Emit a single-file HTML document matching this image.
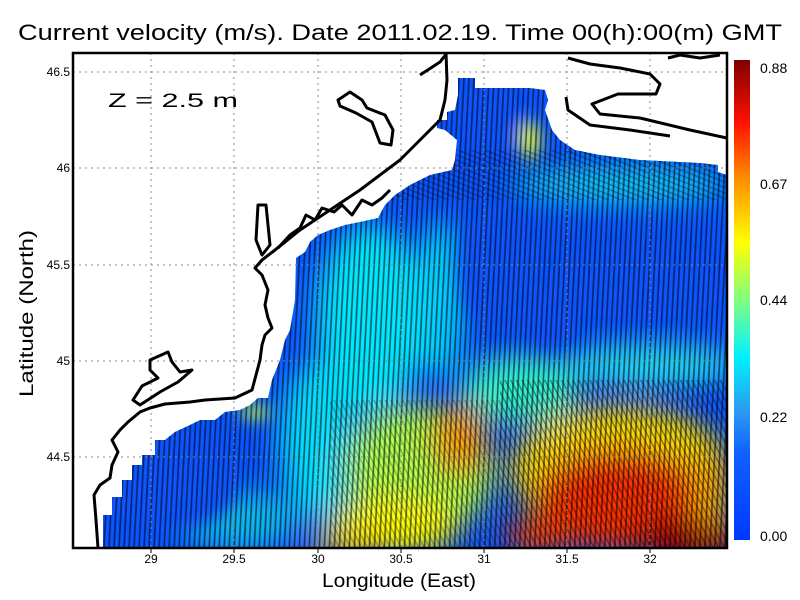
<!DOCTYPE html>
<html><head><meta charset="utf-8"><style>
html,body{margin:0;padding:0;background:#fff;}
svg{display:block;font-family:"Liberation Sans",sans-serif;}
</style></head><body>
<svg width="800" height="600" viewBox="0 0 800 600" xmlns="http://www.w3.org/2000/svg">
<defs>
<linearGradient id="cb" x1="0" y1="1" x2="0" y2="0">
<stop offset="0" stop-color="#0038ff"/>
<stop offset="0.18" stop-color="#1060ff"/>
<stop offset="0.27" stop-color="#2a9cf0"/>
<stop offset="0.38" stop-color="#00f0ff"/>
<stop offset="0.5" stop-color="#80ff80"/>
<stop offset="0.62" stop-color="#ffff00"/>
<stop offset="0.75" stop-color="#ff9000"/>
<stop offset="0.87" stop-color="#ff1000"/>
<stop offset="1" stop-color="#800000"/>
</linearGradient>
<filter id="bl" x="-50%" y="-50%" width="200%" height="200%"><feGaussianBlur stdDeviation="14"/></filter>
<filter id="bl2" x="-50%" y="-50%" width="200%" height="200%"><feGaussianBlur stdDeviation="8"/></filter>
<pattern id="hv" width="5" height="10" patternUnits="userSpaceOnUse" patternTransform="rotate(3)">
<line x1="2.5" y1="0" x2="2.5" y2="10" stroke="#000" stroke-width="1.6"/>
</pattern>
<pattern id="hd" width="5" height="10" patternUnits="userSpaceOnUse" patternTransform="rotate(-28)">
<line x1="2.5" y1="0" x2="2.5" y2="10" stroke="#000" stroke-width="1.3"/>
</pattern>
<pattern id="hh" width="10" height="5" patternUnits="userSpaceOnUse" patternTransform="rotate(22)">
<line x1="0" y1="2.5" x2="10" y2="2.5" stroke="#000" stroke-width="1.2"/>
</pattern>
<clipPath id="water"><path d="M103,548 L103,515 112,515 112,497 122,497 122,480 132,480 132,465 142,465 142,455 155,455 155,440 165,440 175,432 190,425 200,420 215,420 225,412 240,410 250,405 258,398 268,398 272,380 280,360 285,340 290,330 295,300 296,258 305,252 310,242 318,235 330,230 345,225 360,222 378,218 385,205 395,195 410,185 430,175 452,170 455,160 457,140 445,130 437,128 437,120 447,120 447,112 455,110 458,95 458,78 475,78 475,88 515,88 530,88 545,90 548,100 545,110 552,130 560,140 575,150 600,155 640,160 700,163 718,165 718,172 727,175 727,548 Z"/></clipPath>
<clipPath id="plot"><rect x="73" y="53" width="654" height="495"/></clipPath>
</defs>

<g clip-path="url(#plot)">
<g clip-path="url(#water)">
<rect x="73" y="53" width="654" height="495" fill="#0a55ff"/>
<g filter="url(#bl)">
<ellipse cx="370" cy="320" rx="55" ry="95" fill="#00e8ff"/>
<ellipse cx="440" cy="300" rx="25" ry="80" fill="#00d0ff"/>
<ellipse cx="320" cy="440" rx="40" ry="80" fill="#00e0ff"/>
<ellipse cx="520" cy="390" rx="60" ry="35" fill="#30f0d0"/>
<ellipse cx="650" cy="365" rx="90" ry="22" fill="#20d8f0"/>
<ellipse cx="620" cy="185" rx="110" ry="18" fill="#10d0f8"/>
<ellipse cx="420" cy="470" rx="75" ry="65" fill="#b0ff50"/>
<ellipse cx="395" cy="525" rx="65" ry="30" fill="#ffff00"/>
<ellipse cx="460" cy="440" rx="28" ry="35" fill="#ffa000"/>
<ellipse cx="350" cy="545" rx="40" ry="12" fill="#ffd000"/>
<ellipse cx="240" cy="520" rx="60" ry="30" fill="#10b8f0"/>
<ellipse cx="620" cy="470" rx="110" ry="65" fill="#ffe000"/>
<ellipse cx="620" cy="500" rx="85" ry="50" fill="#ff3000"/>
<ellipse cx="690" cy="540" rx="55" ry="22" fill="#a00000"/>
<ellipse cx="540" cy="535" rx="35" ry="18" fill="#ff4000"/>
<ellipse cx="710" cy="490" rx="20" ry="40" fill="#ffb000"/>
</g>
<g filter="url(#bl2)">
<ellipse cx="500" cy="270" rx="40" ry="65" fill="#0a55ff"/>
<ellipse cx="640" cy="280" rx="90" ry="40" fill="#0a55ff"/>
<ellipse cx="490" cy="120" rx="30" ry="40" fill="#0a55ff"/>
<ellipse cx="170" cy="480" rx="70" ry="50" fill="#0a55ff"/>
<ellipse cx="530" cy="140" rx="10" ry="20" fill="#e8ff30"/>
<ellipse cx="255" cy="412" rx="16" ry="7" fill="#c0ff40"/>
<ellipse cx="550" cy="320" rx="30" ry="25" fill="#0a55ff"/>
</g>
<rect x="73" y="53" width="654" height="495" fill="url(#hv)" opacity="0.6"/>
<rect x="500" y="380" width="230" height="170" fill="url(#hd)" opacity="0.45"/>
<rect x="330" y="400" width="170" height="150" fill="url(#hd)" opacity="0.3"/>
<rect x="380" y="150" width="350" height="50" fill="url(#hh)" opacity="0.35"/>
</g>
<g stroke="#888" stroke-width="1" stroke-dasharray="2,4">
<line x1="151" y1="53" x2="151" y2="548"/><line x1="234" y1="53" x2="234" y2="548"/><line x1="318" y1="53" x2="318" y2="548"/><line x1="401" y1="53" x2="401" y2="548"/><line x1="484" y1="53" x2="484" y2="548"/><line x1="567" y1="53" x2="567" y2="548"/><line x1="650" y1="53" x2="650" y2="548"/>
<line x1="73" y1="72" x2="727" y2="72"/><line x1="73" y1="168" x2="727" y2="168"/><line x1="73" y1="265" x2="727" y2="265"/><line x1="73" y1="361" x2="727" y2="361"/><line x1="73" y1="457" x2="727" y2="457"/>
</g>
<g fill="none" stroke="#000" stroke-width="3" stroke-linejoin="round">
<polyline points="98,548 96,520 94,495 100,485 110,478 112,465 118,452 112,440 120,430 128,422 140,412 150,408 165,404 190,402 205,400 235,398 252,390 256,375 260,360 262,345 265,335 272,328 268,318 265,305 268,290 262,275 255,268 262,260 275,250 300,230 330,210 360,190 400,160 420,140 440,120 445,100 447,80 446,53"/>
<polygon points="133,400 142,386 158,378 150,370 150,360 168,352 172,362 180,372 192,370 178,382 160,392 140,405"/>
<polygon points="258,205 266,205 268,225 270,245 262,255 256,240"/>
<polyline points="278,248 290,235 300,228 306,215 315,220 322,208 334,212 342,205 352,215 362,200 372,205 382,198 390,190"/>
<polygon points="338,100 350,92 362,100 367,108 385,115 393,130 391,145 380,143 372,122 356,113 340,106"/>
<polyline points="420,75 440,62 447,53"/>
<polyline points="568,58 590,64 620,68 650,74 660,84 656,94 618,94 592,104 600,114 640,118 690,130 727,138"/>
<polyline points="566,97 568,110 590,125 630,130 670,136"/>
<polyline points="668,58 680,55 700,58 720,55"/>
</g>
</g>
<rect x="73" y="53" width="654" height="495" fill="none" stroke="#000" stroke-width="2.5"/>
<g stroke="#000" stroke-width="1">
<line x1="151" y1="548" x2="151" y2="553"/><line x1="234" y1="548" x2="234" y2="553"/><line x1="318" y1="548" x2="318" y2="553"/><line x1="401" y1="548" x2="401" y2="553"/><line x1="484" y1="548" x2="484" y2="553"/><line x1="567" y1="548" x2="567" y2="553"/><line x1="650" y1="548" x2="650" y2="553"/>
</g>
<g font-size="12" text-anchor="middle" fill="#000">
<text x="151" y="563">29</text><text x="234" y="563">29.5</text><text x="318" y="563">30</text><text x="401" y="563">30.5</text><text x="484" y="563">31</text><text x="567" y="563">31.5</text><text x="650" y="563">32</text>
</g>
<g font-size="12" text-anchor="end" fill="#000">
<text x="70" y="76">46.5</text><text x="70" y="172">46</text><text x="70" y="269">45.5</text><text x="70" y="365">45</text><text x="70" y="461">44.5</text>
</g>
<text x="18" y="40" font-size="22" textLength="764" lengthAdjust="spacingAndGlyphs" fill="#000">Current velocity (m/s). Date 2011.02.19. Time 00(h):00(m) GMT</text>
<text x="322" y="587" font-size="19" textLength="154" lengthAdjust="spacingAndGlyphs" fill="#000">Longitude (East)</text>
<text transform="translate(33,397) rotate(-90)" font-size="19" textLength="167" lengthAdjust="spacingAndGlyphs" fill="#000">Latitude (North)</text>
<text x="108" y="107" font-size="19" textLength="130" lengthAdjust="spacingAndGlyphs" fill="#000">Z = 2.5 m</text>
<rect x="734" y="60" width="16" height="480" fill="url(#cb)"/>
<g font-size="14" fill="#000">
<text x="760" y="73">0.88</text><text x="760" y="189">0.67</text><text x="760" y="305">0.44</text><text x="760" y="422">0.22</text><text x="760" y="541">0.00</text>
</g>
</svg>
</body></html>
